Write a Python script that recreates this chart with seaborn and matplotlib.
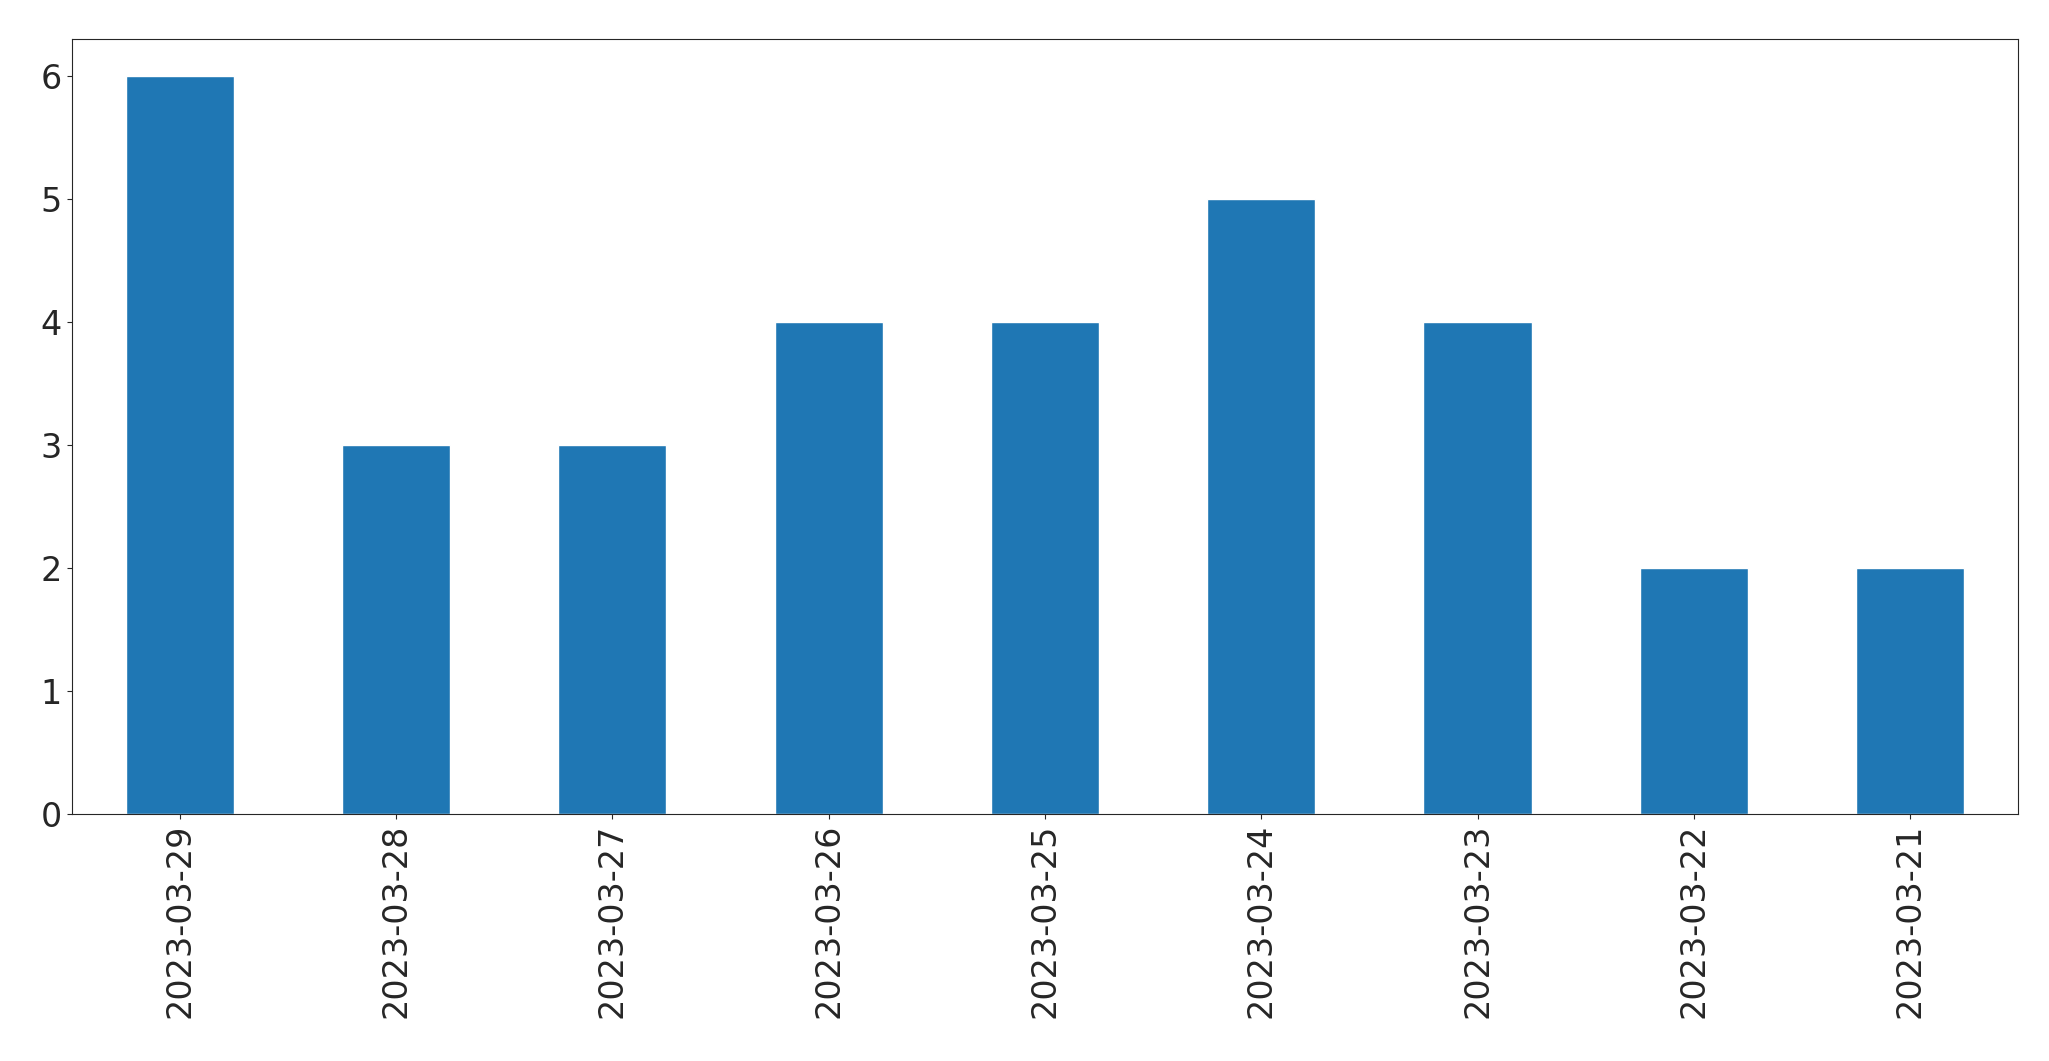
import matplotlib
matplotlib.use('Agg')
import matplotlib.pyplot as plt
import seaborn as sns
import pandas as pd

# ========================
# DATA
# ========================
dates = ['2023-03-29', '2023-03-28', '2023-03-27', '2023-03-26', '2023-03-25',
         '2023-03-24', '2023-03-23', '2023-03-22', '2023-03-21']
counts = [6, 3, 3, 4, 4, 5, 4, 2, 2]

df = pd.DataFrame({'date': dates, 'count': counts})

# ========================
# PLOT
# ========================
sns.set_style('ticks')
plt.rcParams['font.family'] = ['DejaVu Sans']

fig = plt.figure(figsize=(20.49, 10.61), dpi=100)
ax = fig.add_axes([0.035, 0.233, 0.95, 0.73])

sns.barplot(data=df, x='date', y='count', color='#1f77b4', saturation=1,
            width=0.5, ax=ax)

ax.set_xlim(-0.5, len(dates) - 0.5)
ax.set_ylim(0, 6.3)
ax.set_xlabel('')
ax.set_ylabel('')
ax.tick_params(axis='both', labelsize=24)
ax.tick_params(axis='x', rotation=90)
for s in ax.spines.values():
    s.set_visible(True)
    s.set_linewidth(0.8)

fig.savefig('out.png', dpi=100)
